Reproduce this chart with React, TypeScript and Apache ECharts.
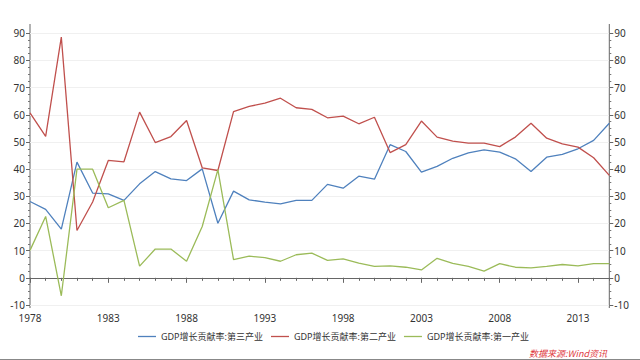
import React, { useEffect, useRef } from "react";
import * as echarts from "echarts";

const years = [
  "1978","1979","1980","1981","1982","1983","1984","1985","1986","1987",
  "1988","1989","1990","1991","1992","1993","1994","1995","1996","1997",
  "1998","1999","2000","2001","2002","2003","2004","2005","2006","2007",
  "2008","2009","2010","2011","2012","2013","2014","2015",
];

const tertiary = [
  28.1, 25.2, 17.9, 42.6, 31.2, 30.9, 28.5, 34.6, 39.1, 36.4,
  35.8, 40.1, 20.1, 31.9, 28.7, 27.9, 27.2, 28.5, 28.5, 34.4,
  33.0, 37.4, 36.3, 49.0, 46.5, 38.9, 41.0, 44.0, 46.0, 47.1,
  46.3, 43.8, 39.1, 44.4, 45.4, 47.5, 50.6, 56.9,
];

const secondary = [
  60.7, 52.1, 88.6, 17.4, 27.9, 43.2, 42.7, 61.0, 49.8, 52.0,
  57.9, 40.5, 39.5, 61.2, 63.1, 64.3, 66.1, 62.6, 62.0, 58.9,
  59.5, 56.7, 59.1, 46.1, 49.0, 57.7, 51.8, 50.3, 49.6, 49.6,
  48.3, 51.8, 56.9, 51.4, 49.3, 48.1, 44.2, 37.7,
];

const primary = [
  10.1, 22.6, -6.6, 40.0, 40.0, 25.8, 28.5, 4.3, 10.6, 10.6,
  6.1, 18.9, 39.8, 6.7, 8.0, 7.4, 6.1, 8.5, 9.1, 6.4,
  7.0, 5.4, 4.2, 4.4, 3.9, 2.9, 7.2, 5.3, 4.2, 2.5,
  5.2, 3.9, 3.7, 4.2, 4.9, 4.4, 5.2, 5.2,
];

const seriesNames = [
  "GDP增长贡献率:第三产业",
  "GDP增长贡献率:第二产业",
  "GDP增长贡献率:第一产业",
];

const colors = ["#4f81bd", "#c0504d", "#9bbb59"];

const FONT = "'Noto Sans', 'Noto Sans CJK SC', sans-serif";

export default function App() {
  const ref = useRef<HTMLDivElement>(null);

  useEffect(() => {
    if (!ref.current) return;
    const chart = echarts.init(ref.current, undefined, { renderer: "svg" });

    const yAxisCommon = {
      type: "value",
      min: -10,
      max: 90,
      interval: 10,
      axisLine: { show: false },
      axisTick: { show: true, length: 4, lineStyle: { color: "#666" } },
      minorTick: { show: true, splitNumber: 4, length: 2, lineStyle: { color: "#777" } },
      axisLabel: { fontSize: 10, color: "#333", margin: 5, fontFamily: FONT },
    };

    const datasets = [tertiary, secondary, primary];

    chart.setOption({
      animation: false,
      backgroundColor: "#ffffff",
      color: colors,
      grid: { left: 30, right: 30.7, top: 33.3, bottom: 55, containLabel: false },
      legend: {
        bottom: 14,
        left: 133,
        icon: "rect",
        itemWidth: 18,
        itemHeight: 1.3,
        itemGap: 8,
        textStyle: { fontSize: 9, color: "#333", fontFamily: FONT },
        data: seriesNames,
      },
      xAxis: [
        {
          type: "category",
          data: years,
          boundaryGap: false,
          offset: 3,
          axisLine: { show: true, lineStyle: { color: "#666", width: 1 } },
          axisTick: { show: true, interval: 0, length: 3, lineStyle: { color: "#666" } },
          axisLabel: { show: false },
          splitLine: { show: false },
        },
        {
          type: "category",
          data: years,
          boundaryGap: false,
          position: "bottom",
          offset: 3,
          axisLine: { show: false },
          axisTick: { show: true, interval: 4, length: 5, lineStyle: { color: "#666" } },
          axisLabel: { show: true, interval: 4, fontSize: 10, color: "#333", margin: 5, fontFamily: FONT },
          splitLine: { show: false },
        },
      ],
      yAxis: [
        {
          ...yAxisCommon,
          position: "left",
          splitLine: { show: true, lineStyle: { color: "#f0f0f0", width: 1 } },
        },
        {
          ...yAxisCommon,
          position: "right",
          splitLine: { show: false },
        },
      ],
      graphic: [
        {
          type: "line",
          shape: { x1: 30, y1: 24, x2: 30, y2: 308 },
          style: { stroke: "#666", lineWidth: 1 },
          silent: true,
        },
        {
          type: "line",
          shape: { x1: 609.3, y1: 24, x2: 609.3, y2: 308 },
          style: { stroke: "#666", lineWidth: 1 },
          silent: true,
        },
        {
          type: "text",
          x: 607,
          y: 353,
          style: {
            text: "数据来源:Wind资讯",
            fill: "#e0393e",
            font: "italic 9px 'Noto Sans CJK SC', sans-serif",
            align: "right",
            verticalAlign: "middle",
          },
          silent: true,
        },
        {
          type: "line",
          shape: { x1: 0, y1: 359.5, x2: 640, y2: 359.5 },
          style: { stroke: "#888", lineWidth: 1 },
          silent: true,
        },
      ],
      series: datasets.map((d, i) => ({
        name: seriesNames[i],
        type: "line",
        data: d,
        xAxisIndex: 0,
        yAxisIndex: 0,
        symbol: "none",
        showSymbol: false,
        lineStyle: { width: 1.3, color: colors[i] },
        itemStyle: { color: colors[i] },
        emphasis: { disabled: true },
      })),
    });

    return () => chart.dispose();
  }, []);

  return (
    <div
      ref={ref}
      style={{ position: "fixed", left: 0, top: 0, width: 640, height: 360, background: "#fff" }}
    />
  );
}
